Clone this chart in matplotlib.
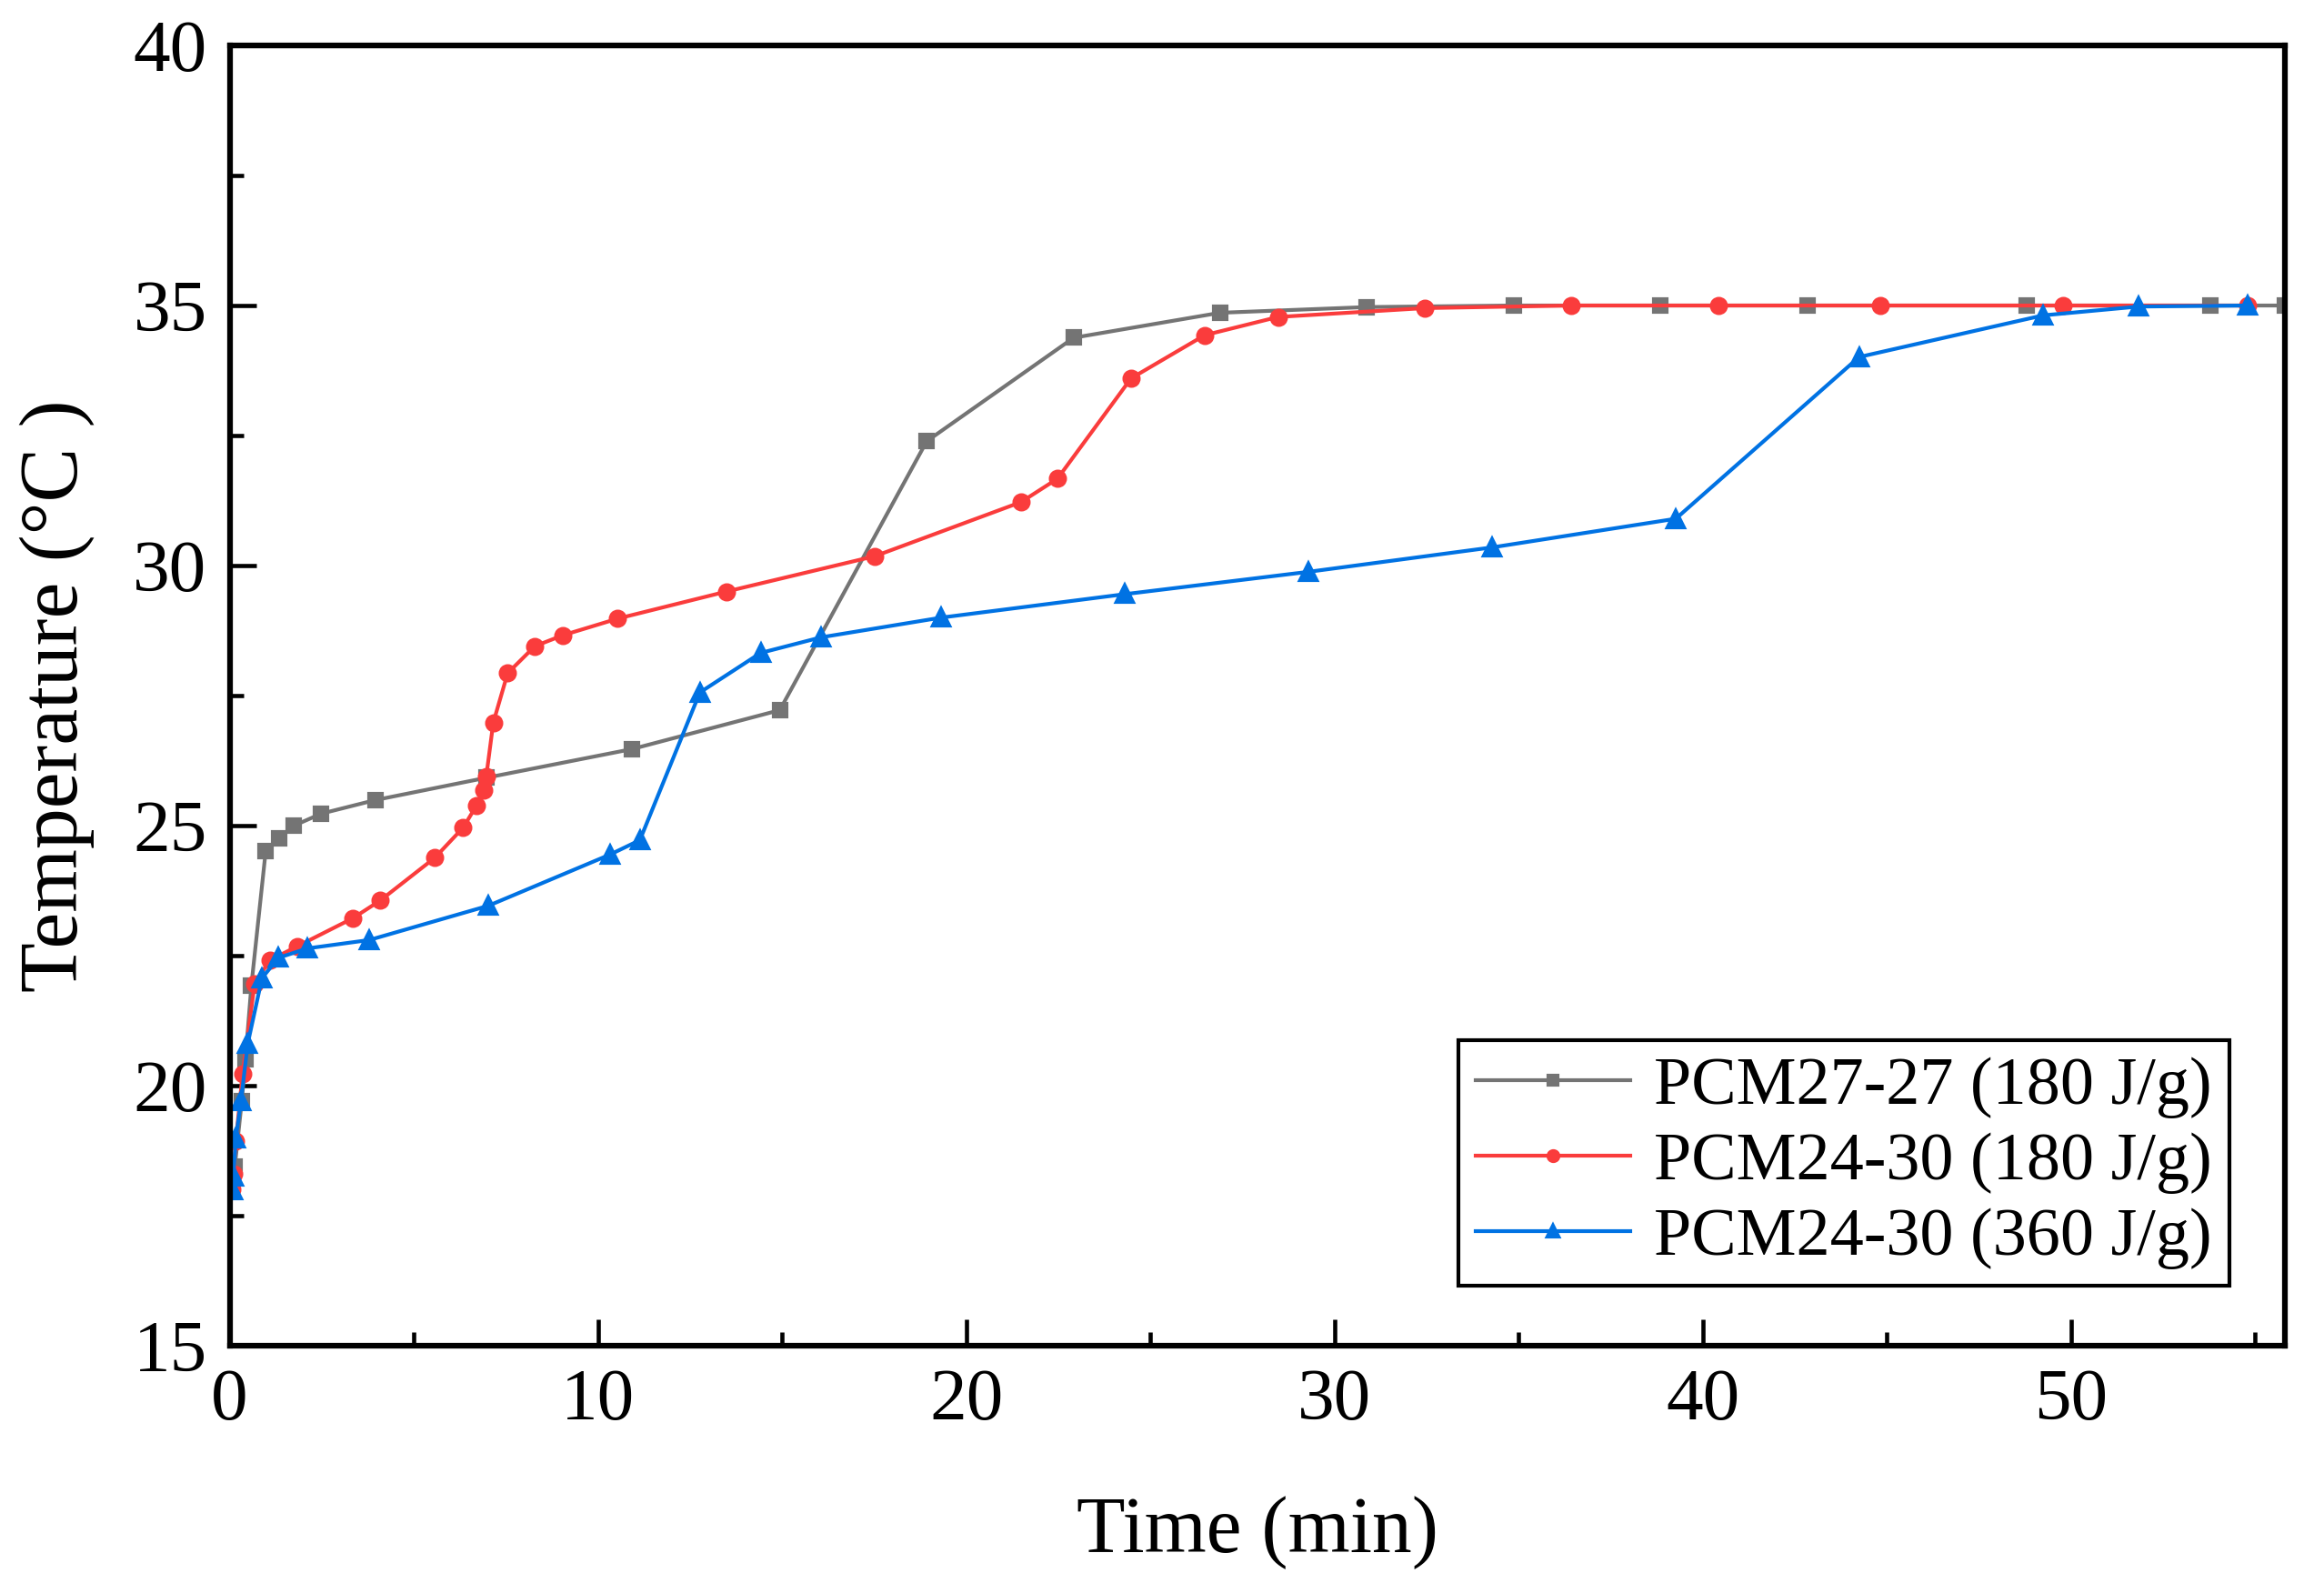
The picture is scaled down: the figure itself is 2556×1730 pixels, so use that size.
import matplotlib
matplotlib.use('Agg')
from matplotlib import pyplot as plt
from matplotlib.ticker import MultipleLocator

# PCM27-27 (180 J/g)
t_gray = [0.05, 0.14, 0.33, 0.43, 0.59, 0.98, 1.35, 1.75, 2.49, 3.95, 6.97, 10.92,
          14.94, 18.93, 22.92, 26.89, 30.88, 34.87, 38.86, 42.86, 48.80, 53.79, 55.8]
T_gray = [18.1, 18.44, 19.7, 20.5, 21.92, 24.51, 24.76, 25.0, 25.23, 25.49, 25.92, 26.47,
          27.22, 32.39, 34.38, 34.86, 34.97, 35.0, 35.0, 35.0, 35.0, 35.0, 35.0]

# PCM24-30 (180 J/g)
t_red = [0.05, 0.1, 0.17, 0.35, 0.68, 1.09, 1.84, 3.35, 4.09, 5.57, 6.34, 6.70, 6.89,
         6.97, 7.16, 7.55, 8.29, 9.05, 10.54, 13.49, 17.52, 21.49, 22.48, 24.48, 26.48,
         28.47, 32.46, 36.44, 40.42, 44.83, 49.79, 54.80]
T_red = [18.0, 18.3, 18.93, 20.22, 21.96, 22.41, 22.68, 23.22, 23.56, 24.38, 24.96, 25.38,
         25.69, 25.95, 26.98, 27.93, 28.45, 28.66, 28.98, 29.5, 30.18, 31.22, 31.67, 33.6,
         34.43, 34.78, 34.95, 35.0, 35.0, 35.0, 35.0, 35.0]

# PCM24-30 (360 J/g)
t_blue = [0.08, 0.10, 0.17, 0.31, 0.49, 0.88, 1.33, 2.12, 3.79, 7.03, 10.32, 11.14,
          12.77, 14.42, 16.06, 19.33, 24.31, 29.30, 34.29, 39.27, 44.25, 49.24, 51.84, 54.80]
T_blue = [17.99, 18.26, 18.99, 19.71, 20.80, 22.07, 22.46, 22.64, 22.80, 23.46, 24.44, 24.72,
          27.56, 28.32, 28.62, 29.0, 29.45, 29.88, 30.35, 30.9, 34.01, 34.81, 34.98, 35.0]

labels = ['PCM27-27 (180 J/g)', 'PCM24-30 (180 J/g)', 'PCM24-30 (360 J/g)']

plt.rcParams['font.family'] = ['Liberation Serif', 'DejaVu Serif']

fig = plt.figure(figsize=(2556 / 300, 1730 / 300), dpi=300)
ax = fig.add_axes([0.0988, 0.1445, 0.8842, 0.8266])

ax.plot(t_gray, T_gray, color='#747474', lw=1.0, marker='s', ms=3.2, label=labels[0])
ax.plot(t_red, T_red, color='#FA3C3C', lw=1.0, marker='o', ms=3.8, label=labels[1])
ax.plot(t_blue, T_blue, color='#0072E3', lw=1.0, marker='^', ms=4.3, label=labels[2])

ax.set_xlim(0, 55.8)
ax.set_ylim(15, 40)
ax.xaxis.set_major_locator(MultipleLocator(10))
ax.xaxis.set_minor_locator(MultipleLocator(5))
ax.yaxis.set_major_locator(MultipleLocator(5))
ax.yaxis.set_minor_locator(MultipleLocator(2.5))
ax.tick_params(which='both', direction='in', top=False, right=False, labelsize=19.5)
ax.tick_params(which='major', length=7, width=1.1, pad=6)
ax.tick_params(which='minor', length=3.6, width=1.1)
for s in ax.spines.values():
    s.set_linewidth(1.5)

ax.set_xlabel('Time (min)', fontsize=21, labelpad=16)
ax.set_ylabel('Temperature (°C )', fontsize=21.5, labelpad=10)

leg = ax.legend(loc='lower right', bbox_to_anchor=(0.973, 0.046), borderaxespad=0,
                fontsize=17.8, numpoints=1, handlelength=2.3, handletextpad=0.35,
                labelspacing=0.2, borderpad=0.25, fancybox=False, framealpha=1,
                edgecolor='black', markerscale=0.7)
leg.get_frame().set_linewidth(1.0)

fig.savefig('out.png', dpi=300)
